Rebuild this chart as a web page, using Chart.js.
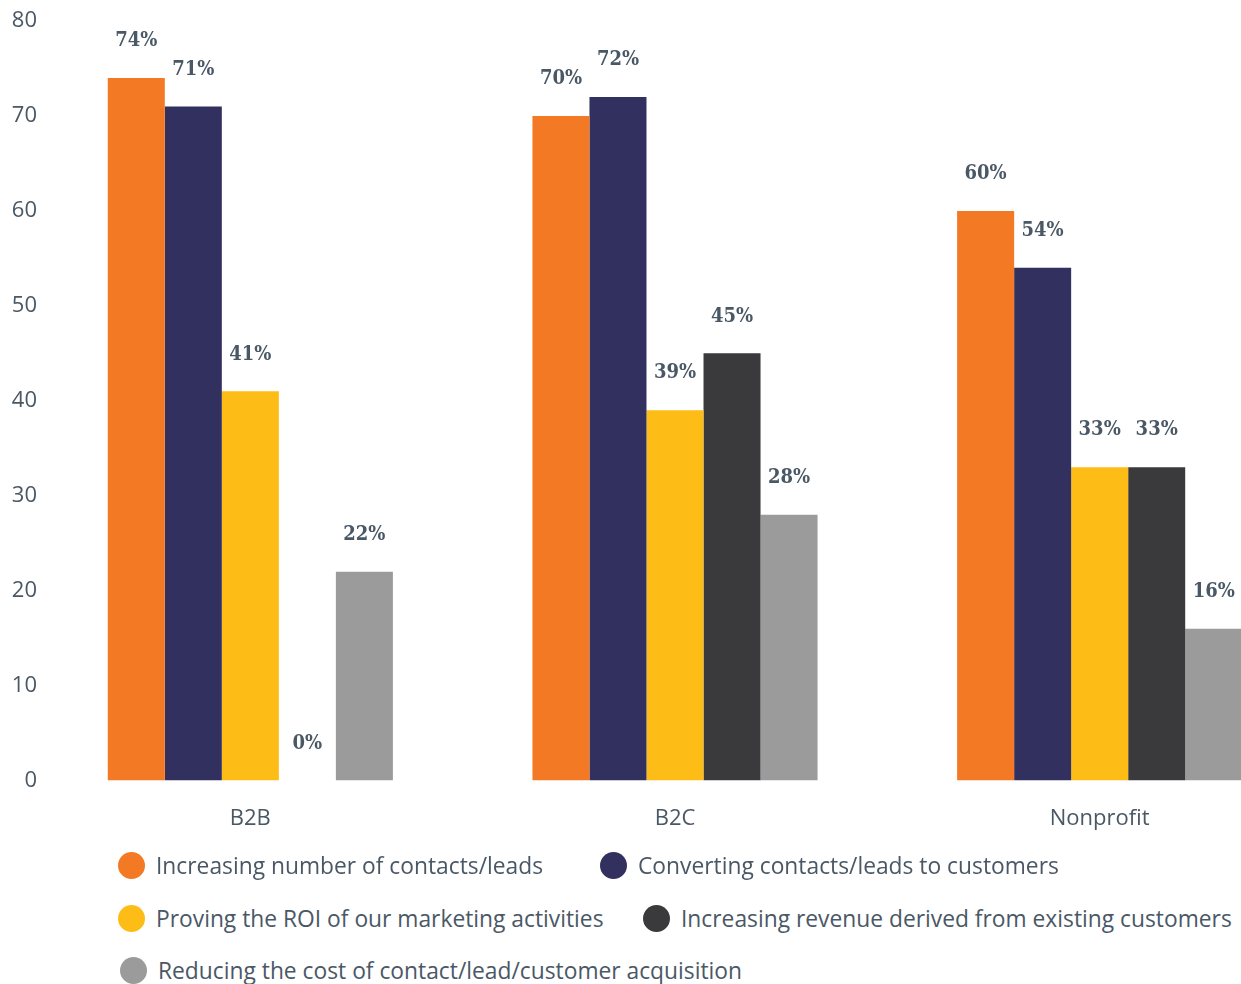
<!DOCTYPE html>
<html>
<head>
<meta charset="utf-8">
<script src="https://cdn.jsdelivr.net/npm/chart.js@4.4.1/dist/chart.umd.min.js"></script>
<style>
  html, body { margin: 0; padding: 0; background: #fff; overflow: hidden; }
  body { width: 1241px; height: 984px; position: relative; }
  .wrap { position: absolute; left: 0; top: 0; width: 1312px; height: 857px; }
  .legend { position: absolute; left: 0; top: 0; width: 1241px; font-family: "Open Sans", sans-serif; font-size: 22.8px; color: #4a5866; }
  .item { position: absolute; display: flex; align-items: center; white-space: nowrap; }
  .dot { width: 27px; height: 27px; border-radius: 50%; margin-right: 11px; }
</style>
</head>
<body>
<div class="wrap"><canvas id="chart"></canvas></div>
<div class="legend" id="legend"></div>
<script>
const categories = ["B2B", "B2C", "Nonprofit"];
const seriesNames = [
  "Increasing number of contacts/leads",
  "Converting contacts/leads to customers",
  "Proving the ROI of our marketing activities",
  "Increasing revenue derived from existing customers",
  "Reducing the cost of contact/lead/customer acquisition"
];
const increasingLeads = [74, 70, 60];
const convertingLeads = [71, 72, 54];
const provingRoi = [41, 39, 33];
const increasingRevenue = [0, 45, 33];
const reducingCost = [22, 28, 16];
const colors = ["#F47924", "#31305F", "#FDBD16", "#3A3A3C", "#9B9B9B"];
const yTicks = [0, 10, 20, 30, 40, 50, 60, 70, 80];

const textColor = "#4a5866";
const allSeries = [increasingLeads, convertingLeads, provingRoi, increasingRevenue, reducingCost];

// draws the "74%" style labels above each bar
const valueLabels = {
  id: "valueLabels",
  afterDatasetsDraw(chart) {
    const ctx = chart.ctx;
    ctx.save();
    ctx.font = "bold 20px 'DejaVu Serif Condensed', 'DejaVu Serif', serif";
    ctx.fillStyle = textColor;
    ctx.textAlign = "center";
    ctx.textBaseline = "middle";
    chart.data.datasets.forEach((ds, i) => {
      chart.getDatasetMeta(i).data.forEach((bar, j) => {
        ctx.fillText(ds.data[j] + "%", bar.x, bar.y - 37);
      });
    });
    ctx.restore();
  }
};

new Chart(document.getElementById("chart"), {
  type: "bar",
  data: {
    labels: categories,
    datasets: allSeries.map((vals, i) => ({
      label: seriesNames[i],
      data: vals,
      backgroundColor: colors[i],
      borderWidth: 0,
      categoryPercentage: 0.6714,
      barPercentage: 1
    }))
  },
  options: {
    responsive: true,
    maintainAspectRatio: false,
    animation: false,
    layout: { padding: { top: 21, right: 0, bottom: 0, left: 0 } },
    plugins: {
      legend: { display: false },
      tooltip: { enabled: false }
    },
    scales: {
      x: {
        grid: { display: false, drawTicks: false },
        border: { display: false },
        ticks: { color: textColor, font: { family: "'Open Sans'", size: 22 }, padding: 25 }
      },
      y: {
        min: 0,
        max: 80,
        afterBuildTicks: (scale) => { scale.ticks = yTicks.map(v => ({ value: v })); },
        afterFit: (scale) => { scale.width = 38; },
        grid: { display: false, drawTicks: false },
        border: { display: false },
        ticks: { color: textColor, font: { family: "'Open Sans'", size: 22 }, padding: 1 }
      }
    }
  },
  plugins: [valueLabels]
});

// legend laid out like the original: two per row, last one alone
const legendSpots = [[118, 866], [600, 866], [118, 919], [643, 919], [120, 971]];
const legend = document.getElementById("legend");
seriesNames.forEach((name, i) => {
  const el = document.createElement("div");
  el.className = "item";
  el.style.left = legendSpots[i][0] + "px";
  el.style.top = (legendSpots[i][1] - 16) + "px";
  el.innerHTML = '<span class="dot" style="background:' + colors[i] + '"></span><span>' + name + '</span>';
  legend.appendChild(el);
});
</script>
</body>
</html>
